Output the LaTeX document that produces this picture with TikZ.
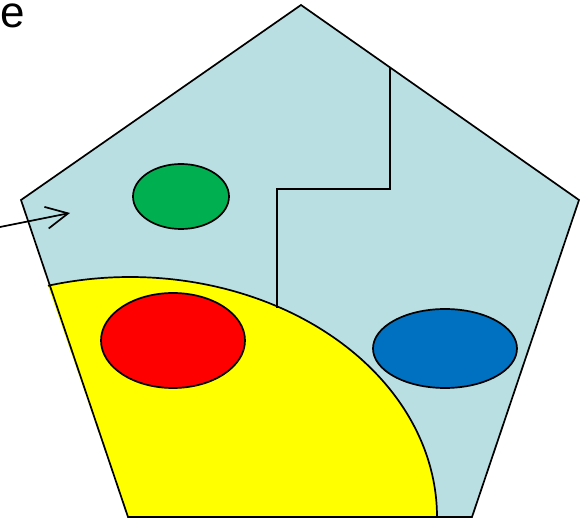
\documentclass[tikz,border=0pt]{standalone}
\usepackage{fontspec}
\setmainfont{Liberation Sans}
\usetikzlibrary{arrows.meta,calc}
\definecolor{pentblue}{HTML}{BADFE3}
\definecolor{mygreen}{HTML}{00B050}
\definecolor{myred}{HTML}{FF0000}
\definecolor{myblue}{HTML}{0070C0}
\definecolor{myyellow}{HTML}{FFFF00}
\tikzset{
  lw/.style={line width=1.7pt},
  outline/.style={draw=black,lw,line join=miter},
}
\begin{document}
\begin{tikzpicture}[x=1pt,y=-1pt]
\useasboundingbox (0,0) rectangle (581,518);
% pentagon corners
\coordinate (T) at (301,5);
\coordinate (R) at (579,200);
\coordinate (BR) at (472,517);
\coordinate (BL) at (128,517);
\coordinate (L) at (21,200);
\fill[pentblue] (T) -- (R) -- (BR) -- (BL) -- (L) -- cycle;
% yellow region
\coordinate (ys) at ($(130,517)+(-105.5:307 and 240)$);
\fill[myyellow] (BL) -- (ys) arc[start angle=-105.5,end angle=0,x radius=307,y radius=240] -- cycle;
\draw[lw] (ys) arc[start angle=-105.5,end angle=0,x radius=307,y radius=240] coordinate (ye);
% ellipses
\filldraw[fill=mygreen,lw] (181,196.5) coordinate (g) ellipse[x radius=48,y radius=32.5];
\filldraw[fill=myred,lw] (173,340.5) coordinate (r) ellipse[x radius=72,y radius=47.5];
\filldraw[fill=myblue,lw] (445,348.5) coordinate (b) ellipse[x radius=72,y radius=39.5];
% zigzag line
\coordinate (z1) at (390,68);
\coordinate (z2) at (390,189);
\coordinate (z3) at (277,189);
\coordinate (z4) at (277,308);
\draw[lw] (z1) -- (z2) -- (z3) -- (z4);
% outline
\draw[outline] (T) -- (R) -- (BR) -- (BL) -- (L) -- cycle;
% arrow
\coordinate (a0) at (0,227);
\coordinate (a1) at (70,213);
\draw[lw,-{Straight Barb[length=22pt,width=22pt,line width=1.7pt]}] (a0) -- (a1);
% label
\node[anchor=base west,inner sep=0pt,font=\fontsize{44}{44}\selectfont] (e) at (0,28) {e};
\end{tikzpicture}
\end{document}
